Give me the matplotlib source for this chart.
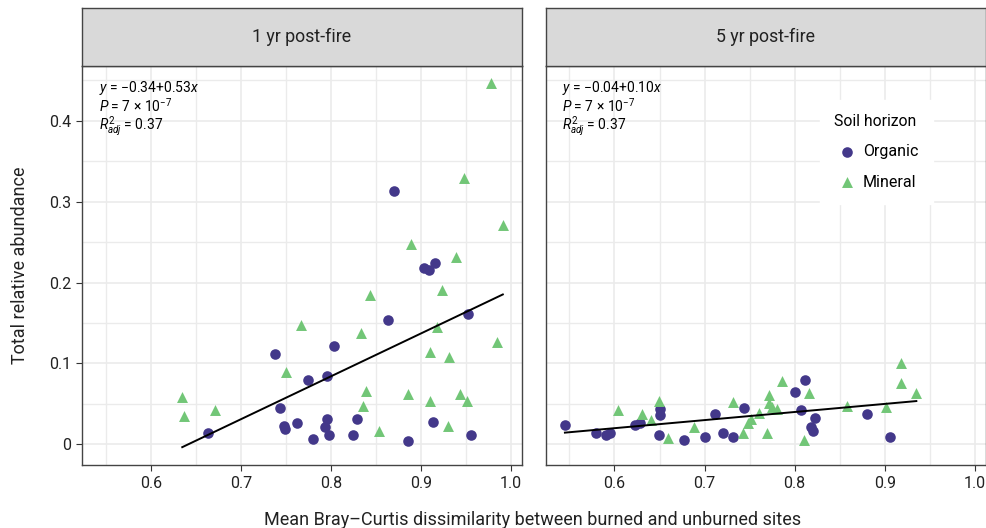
import numpy as np
import matplotlib.pyplot as plt
from matplotlib.ticker import MultipleLocator

plt.rcParams['font.family'] = ['Roboto', 'DejaVu Sans']
plt.rcParams['mathtext.fontset'] = 'custom'
plt.rcParams['mathtext.rm'] = 'Roboto'
plt.rcParams['mathtext.it'] = 'Roboto:italic'

# 1 yr post-fire
org1_x = [0.870, 0.903, 0.909, 0.916, 0.864, 0.952, 0.803, 0.738, 0.796, 0.775,
          0.744, 0.664, 0.749, 0.748, 0.762, 0.780, 0.796, 0.794, 0.798, 0.825,
          0.829, 0.886, 0.914, 0.956]
org1_y = [0.313, 0.218, 0.216, 0.224, 0.154, 0.161, 0.122, 0.112, 0.084, 0.079,
          0.045, 0.014, 0.019, 0.023, 0.026, 0.007, 0.031, 0.021, 0.011, 0.011,
          0.031, 0.004, 0.028, 0.011]
min1_x = [0.978, 0.948, 0.991, 0.889, 0.939, 0.924, 0.843, 0.767, 0.918, 0.833,
          0.984, 0.910, 0.931, 0.750, 0.839, 0.635, 0.886, 0.944, 0.910, 0.951,
          0.836, 0.671, 0.637, 0.854, 0.930]
min1_y = [0.446, 0.329, 0.271, 0.247, 0.232, 0.191, 0.184, 0.148, 0.145, 0.138,
          0.126, 0.114, 0.108, 0.090, 0.066, 0.059, 0.062, 0.062, 0.054, 0.054,
          0.047, 0.042, 0.035, 0.016, 0.023]

# 5 yr post-fire
org5_x = [0.545, 0.580, 0.591, 0.595, 0.623, 0.628, 0.651, 0.651, 0.649, 0.677,
          0.701, 0.712, 0.720, 0.731, 0.744, 0.800, 0.811, 0.807, 0.822, 0.818,
          0.820, 0.880, 0.906]
org5_y = [0.024, 0.014, 0.012, 0.014, 0.024, 0.027, 0.044, 0.036, 0.012, 0.005,
          0.009, 0.038, 0.014, 0.009, 0.045, 0.065, 0.079, 0.043, 0.033, 0.022,
          0.017, 0.038, 0.009]
min5_x = [0.604, 0.631, 0.640, 0.649, 0.659, 0.688, 0.732, 0.743, 0.748, 0.752,
          0.760, 0.769, 0.772, 0.771, 0.775, 0.780, 0.786, 0.810, 0.816, 0.858,
          0.901, 0.918, 0.918, 0.935]
min5_y = [0.042, 0.038, 0.030, 0.054, 0.008, 0.021, 0.052, 0.014, 0.026, 0.031,
          0.039, 0.014, 0.061, 0.051, 0.046, 0.044, 0.078, 0.006, 0.064, 0.047,
          0.046, 0.100, 0.076, 0.064]

titles = ['1 yr post-fire', '5 yr post-fire']
intercepts = [-0.34, -0.04]
slopes = [0.53, 0.10]
eq_labels = ['$y$ = \u22120.34+0.53$x$', '$y$ = \u22120.04+0.10$x$']
p_label = '$P$ = 7 \u00d7 10$^{\u22127}$'
r2_label = '$R^2_{adj}$ = 0.37'

organic_col = '#43388a'
mineral_col = '#72c677'

fig = plt.figure(figsize=(9.87, 5.28), dpi=100)
ax_pos = [[0.0831, 0.1193, 0.4455, 0.7557], [0.5529, 0.1193, 0.4458, 0.7557]]
panels = [(org1_x, org1_y, min1_x, min1_y), (org5_x, org5_y, min5_x, min5_y)]

for i, (ox, oy, mx, my) in enumerate(panels):
    ax = fig.add_axes(ax_pos[i])
    ax.set_xlim(0.5237, 1.012)
    ax.set_ylim(-0.0255, 0.4675)
    ax.xaxis.set_minor_locator(MultipleLocator(0.05))
    ax.yaxis.set_minor_locator(MultipleLocator(0.05))
    ax.grid(which='major', color='#ebebeb', lw=1.2)
    ax.grid(which='minor', color='#ebebeb', lw=1.0)
    ax.set_axisbelow(True)
    ax.tick_params(which='minor', length=0)
    ax.tick_params(which='major', length=4, width=0.8, color='#333333',
                   labelsize=11.5, labelcolor='#222222', pad=4)
    ax.set_xticks([0.6, 0.7, 0.8, 0.9, 1.0])
    ax.set_xticklabels(['0.6', '0.7', '0.8', '0.9', '1.0'])
    ax.set_yticks([0, 0.1, 0.2, 0.3, 0.4])
    ax.set_yticklabels(['0', '0.1', '0.2', '0.3', '0.4'])
    if i == 1:
        ax.set_yticklabels([])
        ax.tick_params(axis='y', length=0)
    for s in ax.spines.values():
        s.set_color('#444444')
        s.set_linewidth(1.0)

    ax.scatter(ox, oy, s=58, marker='o', color=organic_col, lw=0, label='Organic', zorder=3)
    ax.scatter(mx, my, s=62, marker='^', color=mineral_col, lw=0, label='Mineral', zorder=3)

    allx = np.array(ox + mx)
    xl = np.linspace(allx.min(), allx.max(), 50)
    ax.plot(xl, intercepts[i] + slopes[i] * xl, color='black', lw=1.4, zorder=4)

    ax.text(0.038, 0.946, eq_labels[i], transform=ax.transAxes, fontsize=10, va='center')
    ax.text(0.038, 0.900, p_label, transform=ax.transAxes, fontsize=10, va='center')
    ax.text(0.038, 0.850, r2_label, transform=ax.transAxes, fontsize=10, va='center')

    # facet strip
    sax = fig.add_axes([ax_pos[i][0], 0.875, ax_pos[i][2], 0.1098])
    sax.set_facecolor('#d9d9d9')
    sax.set_xticks([])
    sax.set_yticks([])
    for s in sax.spines.values():
        s.set_color('#444444')
        s.set_linewidth(1.0)
    sax.text(0.5, 0.5, titles[i], transform=sax.transAxes, ha='center', va='center',
             fontsize=12.8, color='#222222')

    if i == 1:
        leg = ax.legend(title='Soil horizon', loc='upper left', bbox_to_anchor=(0.605, 0.935),
                        frameon=True, fontsize=11.5, title_fontsize=11.3,
                        labelspacing=0.95, handletextpad=0.2, borderpad=0.9,
                        handlelength=1.6, markerscale=1.0)
        leg.get_frame().set_facecolor('white')
        leg.get_frame().set_edgecolor('white')
        leg.get_frame().set_alpha(1)
        leg.get_frame().set_boxstyle('square', pad=0)
        leg._legend_box.align = 'left'

fig.text(0.020, 0.497, 'Total relative abundance', rotation=90, ha='center', va='center',
         fontsize=13, color='#222222')
fig.text(0.540, 0.016, 'Mean Bray\u2013Curtis dissimilarity between burned and unburned sites',
         ha='center', va='center', fontsize=13, color='#222222')

fig.savefig('out.png', dpi=100)
